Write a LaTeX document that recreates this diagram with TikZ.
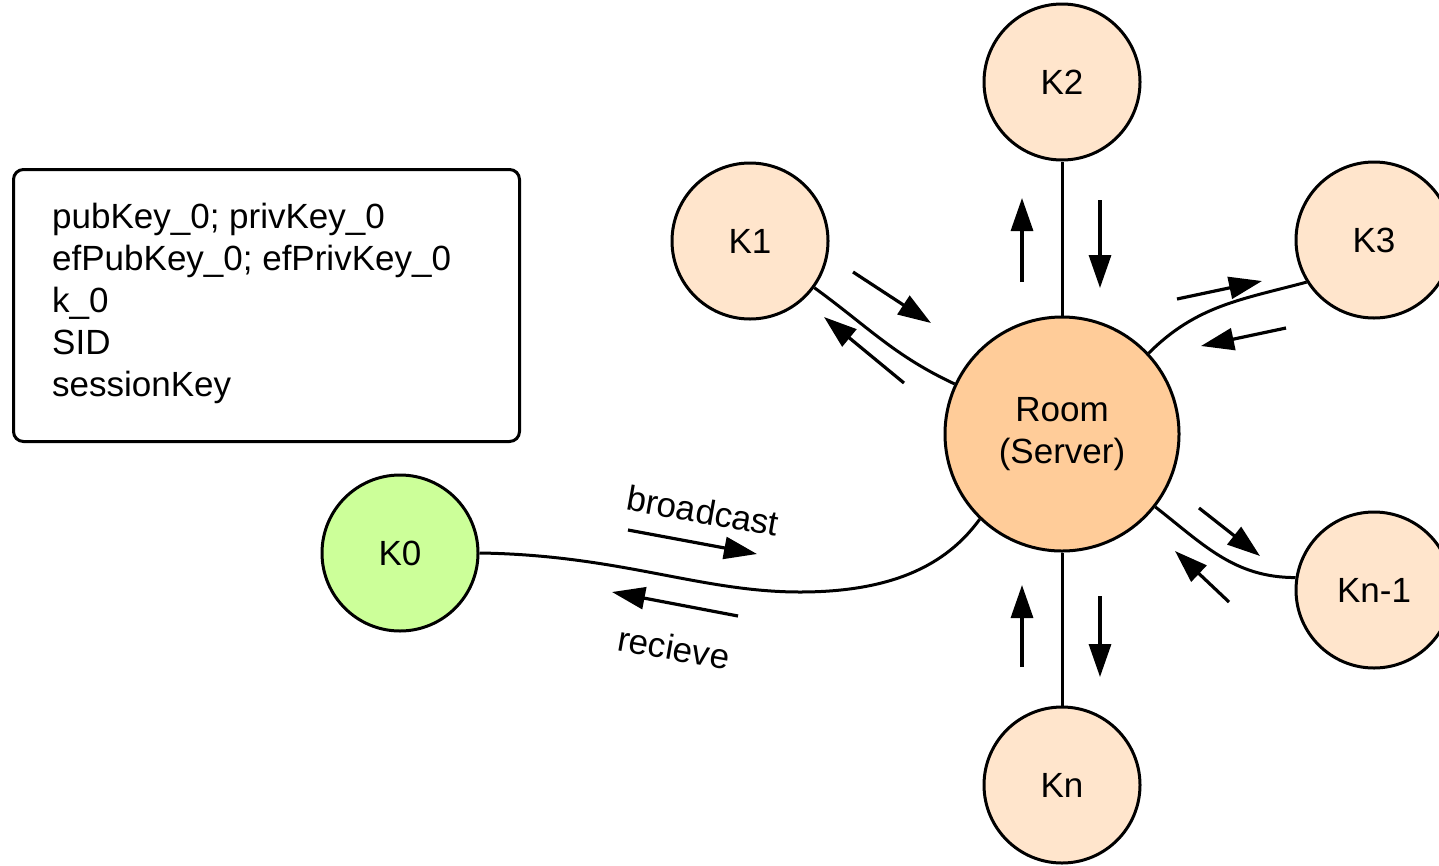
\documentclass[tikz,border=0pt]{standalone}
\usepackage{fontspec}
\setmainfont{Liberation Sans}
\usetikzlibrary{arrows.meta}
\definecolor{peach}{RGB}{255,229,204}
\definecolor{roomc}{RGB}{255,204,153}
\definecolor{greenc}{RGB}{204,255,153}
\begin{document}
\begin{tikzpicture}[x=1pt,y=-1pt,
  knode/.style={circle, draw, line width=3pt, fill=peach, minimum size=156pt, inner sep=0pt, font=\fontsize{35}{42}\selectfont},
  link/.style={line width=3pt},
  flow/.style={line width=3.2pt, -{Triangle[length=33pt,width=22pt]}},
  lbl/.style={font=\fontsize{35}{42}\selectfont, inner sep=0pt}]
\useasboundingbox (0,0) rectangle (1439,865);
% nodes
\node[knode, fill=roomc, minimum size=234pt, align=center] (room) at (1062,434) {Room\\(Server)};
\node[knode] (k2) at (1062,82) {K2};
\node[knode] (k1) at (750,241) {K1};
\node[knode] (k3) at (1374,240) {K3};
\node[knode] (kn1) at (1374,590) {Kn-1};
\node[knode] (kn) at (1062,785) {Kn};
\node[knode, fill=greenc] (k0) at (400,553) {K0};
% info box
\node[draw, line width=3pt, rounded corners=10pt, minimum width=506pt, minimum height=272pt, anchor=north west, inner sep=0pt] (box) at (12,168) {};
\node[lbl, align=left, anchor=north west] (keys) at (52,203) {pubKey\_0; privKey\_0\\efPubKey\_0; efPrivKey\_0\\k\_0\\SID\\sessionKey};
% connectors
\draw[link] (room) -- (k2);
\draw[link] (room) -- (kn);
\draw[link] (k1.-36) to[out=-36,in=155] (room.155);
\draw[link] (room.43) to[out=45,in=195] (k3.212);
\draw[link] (room.-38) to[out=-38,in=180] (kn1.171);
\draw[link] (k0.east) .. controls (620,555) and (700,592) .. (800,592) .. controls (900,592) and (950,560) .. (room.226);
% flow arrows
\coordinate (a1) at (1022,282); \coordinate (b1) at (1022,198);
\coordinate (a2) at (1100,200); \coordinate (b2) at (1100,288);
\coordinate (a3) at (853,272);  \coordinate (b3) at (931,323);
\coordinate (a4) at (904,383);  \coordinate (b4) at (824,317);
\coordinate (a5) at (1177,299); \coordinate (b5) at (1262,281);
\coordinate (a6) at (1286,328); \coordinate (b6) at (1201,346);
\coordinate (a7) at (1199,508); \coordinate (b7) at (1260,556);
\coordinate (a8) at (1229,602); \coordinate (b8) at (1175,551);
\coordinate (a9) at (1022,667); \coordinate (b9) at (1022,585);
\coordinate (a10) at (1100,596); \coordinate (b10) at (1100,677);
\coordinate (a11) at (628,530); \coordinate (b11) at (757,554);
\coordinate (a12) at (738,616); \coordinate (b12) at (612,592);
\draw[flow] (a1) -- (b1);
\draw[flow] (a2) -- (b2);
\draw[flow] (a3) -- (b3);
\draw[flow] (a4) -- (b4);
\draw[flow] (a5) -- (b5);
\draw[flow] (a6) -- (b6);
\draw[flow] (a7) -- (b7);
\draw[flow] (a8) -- (b8);
\draw[flow] (a9) -- (b9);
\draw[flow] (a10) -- (b10);
\draw[flow] (a11) -- (b11);
\draw[flow] (a12) -- (b12);
% labels
\node[lbl, rotate=-10] (bc) at (703,511) {broadcast};
\node[lbl, rotate=-10] (rc) at (674,648) {recieve};
\end{tikzpicture}
\end{document}
